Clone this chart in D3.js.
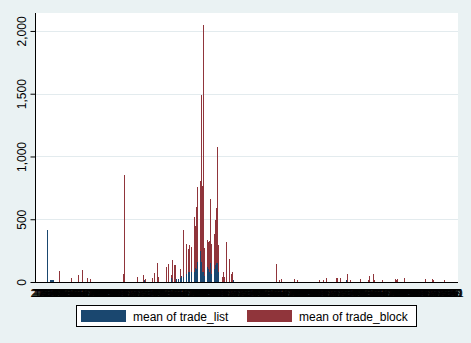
<!DOCTYPE html>
<html><head><meta charset="utf-8">
<script src="https://cdn.jsdelivr.net/npm/d3@7"></script>
<style>
html,body{margin:0;padding:0;background:#eaf2f3;}
svg{display:block;font-family:"Liberation Sans", Arial, sans-serif;}
</style></head><body>
<svg id="chart" width="471" height="343"></svg>
<script>
// ---- data ----
const categories = d3.range(422);                       // over() groups (codes)
const categoryLabels = categories.map(c => d3.format("02")((c + 20) % 100));
const seriesNames = ["mean of trade_list", "mean of trade_block"];
const yTicks = [0, 500, 1000, 1500, 2000];

const barCategory = [11,14,15,16,17,23,35,42,46,51,54,87,88,101,107,108,109,116,118,121,122,130,132,135,136,138,139,140,142,144,145,147,150,152,153,155,158,159,160,161,164,165,166,167,168,171,172,173,174,175,178,179,180,181,182,186,187,188,190,193,195,196,197,240,243,245,258,261,283,287,290,300,301,304,310,311,314,324,332,333,337,338,346,359,360,361,368,389,396,397,408];
const tradeList  = [414,16,16,16,16,0,0,0,0,0,0,0,0,0,0,16,0,0,0,0,0,0,0,32,0,0,0,20,20,30,50,42,60,80,80,82,82,112,100,162,249,162,82,82,50,122,100,80,149,60,100,135,151,151,80,0,0,0,0,0,0,0,16,0,0,0,0,0,0,0,0,0,0,0,16,0,0,0,0,0,0,0,0,0,0,0,0,0,0,0,0];
const tradeBlock = [0,0,0,0,0,90,32,56,96,32,24,64,855,40,56,0,24,32,72,151,40,120,143,56,173,135,135,0,0,101,0,417,305,260,292,281,515,448,595,757,807,1490,763,2048,273,335,316,329,664,303,385,494,592,1076,295,42,80,42,319,183,64,77,0,143,16,24,24,16,16,16,32,32,32,32,0,64,16,24,16,48,64,16,16,24,16,24,32,24,24,16,16];

// ---- layout ----
const svg = d3.select("#chart");
const plot = {left: 35, right: 458, top: 13, bottom: 282};
const colors = ["#1a476f", "#90353b"];

svg.append("rect").attr("width", 471).attr("height", 343).attr("fill", "#eaf2f3");
svg.append("rect").attr("x", plot.left).attr("y", plot.top)
  .attr("width", plot.right - plot.left).attr("height", plot.bottom - plot.top).attr("fill", "#fff");

const x = d3.scaleBand().domain(categories).range([36, 458]).padding(0);
const y = d3.scaleLinear().domain([0, 2143]).range([plot.bottom, plot.top]);

// gridlines
svg.append("g").selectAll("line").data(yTicks.filter(d => d > 0)).join("line")
  .attr("x1", plot.left).attr("x2", plot.right)
  .attr("y1", d => Math.round(y(d)) + 0.5).attr("y2", d => Math.round(y(d)) + 0.5)
  .attr("stroke", "#e3ebee").attr("stroke-width", 1);

const bars = barCategory.map((c, i) => ({c, list: tradeList[i], block: tradeBlock[i]}));

svg.append("g").attr("shape-rendering", "crispEdges").selectAll("rect")
  .data(bars.filter(d => d.block > 0)).join("rect")
  .attr("x", d => x(d.c)).attr("width", Math.max(1, x.bandwidth()))
  .attr("y", d => y(d.block)).attr("height", d => y(0) - y(d.block))
  .attr("fill", colors[1]);

svg.append("g").attr("shape-rendering", "crispEdges").selectAll("rect")
  .data(bars.filter(d => d.list > 0)).join("rect")
  .attr("x", d => x(d.c)).attr("width", Math.max(1, x.bandwidth()))
  .attr("y", d => y(d.list)).attr("height", d => y(0) - y(d.list))
  .attr("fill", colors[0]);

// y axis
const yAxis = d3.axisLeft(y).tickValues(yTicks).tickFormat(d3.format(",")).tickSize(5).tickSizeOuter(0);
const gy = svg.append("g").attr("transform", "translate(35.5,0)").call(yAxis);
gy.select(".domain").remove();
gy.selectAll(".tick line").attr("stroke", "#000");
gy.selectAll(".tick text")
  .attr("transform", "rotate(-90)")
  .attr("x", 0).attr("y", -10).attr("dy", 0)
  .attr("text-anchor", "middle")
  .style("font-size", "12px").style("font-family", '"Liberation Sans", Arial, sans-serif')
  .attr("fill", "#000");

// axis lines
svg.append("line").attr("x1", 35.5).attr("x2", 35.5).attr("y1", plot.top).attr("y2", plot.bottom + 1)
  .attr("stroke", "#000");
svg.append("line").attr("x1", 35).attr("x2", plot.right).attr("y1", 282.5).attr("y2", 282.5)
  .attr("stroke", "#000");

// x category labels (overlapping, as in the reference)
svg.append("g").selectAll("text").data(categories).join("text")
  .attr("x", d => x(d) + x.bandwidth() / 2).attr("y", 297)
  .attr("text-anchor", "middle").style("font-size", "11px").attr("fill", "#000")
  .text((d, i) => categoryLabels[i]);

// legend
const lg = svg.append("g");
lg.append("rect").attr("x", 76.5).attr("y", 305.5).attr("width", 340).attr("height", 21)
  .attr("fill", "#fff").attr("stroke", "#000");
const legendX = [81, 247];
const textX = [133, 299];
seriesNames.forEach((n, i) => {
  lg.append("rect").attr("x", legendX[i]).attr("y", 310).attr("width", 45).attr("height", 12).attr("fill", colors[i]);
  lg.append("text").attr("x", textX[i]).attr("y", 320.5).style("font-size", "12px").attr("fill", "#000").text(n);
});
</script>
</body></html>
